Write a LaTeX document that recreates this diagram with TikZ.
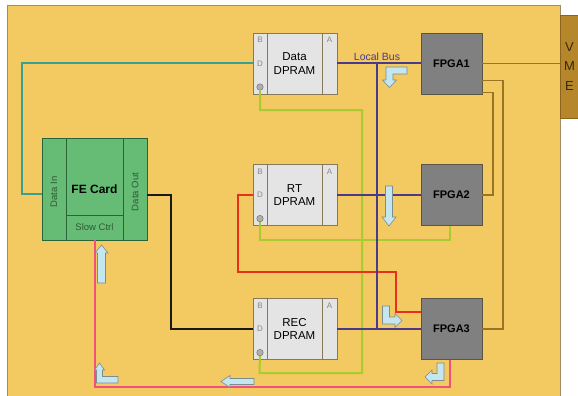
\documentclass[tikz,border=0pt]{standalone}
\usepackage{fontspec}
\setmainfont{Liberation Sans}
\usepackage{xcolor}
\usepackage{tikz}
\usetikzlibrary{positioning, calc}

\definecolor{boardyellow}{RGB}{243,201,97}
\definecolor{boardedge}{RGB}{160,140,100}
\definecolor{dpramgray}{RGB}{228,228,228}
\definecolor{dpramedge}{RGB}{135,120,90}
\definecolor{portgray}{RGB}{135,135,135}
\definecolor{ringgray}{RGB}{175,175,175}
\definecolor{ringedge}{RGB}{105,105,105}
\definecolor{fpgagray}{RGB}{128,128,128}
\definecolor{fpgaedge}{RGB}{90,86,70}
\definecolor{fegreen}{RGB}{102,188,116}
\definecolor{feedge}{RGB}{40,100,55}
\definecolor{fetext}{RGB}{45,90,55}
\definecolor{vmebrown}{RGB}{181,134,42}
\definecolor{vmeedge}{RGB}{140,100,30}
\definecolor{vmetext}{RGB}{55,40,15}
\definecolor{busviolet}{RGB}{75,58,138}
\definecolor{linkbrown}{RGB}{154,116,37}
\definecolor{feedteal}{RGB}{55,160,145}
\definecolor{rtred}{RGB}{232,48,28}
\definecolor{slowpink}{RGB}{240,82,122}
\definecolor{ctrlgreen}{RGB}{168,204,48}
\definecolor{arrowblue}{RGB}{196,230,240}
\definecolor{arrowedge}{RGB}{125,140,140}

\begin{document}
\begin{tikzpicture}[x=1pt, y=-1pt,
  dpram/.style={draw=dpramedge, fill=dpramgray, outer sep=0pt, minimum width=55pt, minimum height=61pt, align=center, font=\fontsize{11.5}{13.5}\selectfont},
  portcol/.style={draw=dpramedge, fill=dpramgray, outer sep=0pt, inner sep=0pt, minimum height=61pt},
  portlbl/.style={text=portgray, inner sep=0pt, font=\fontsize{8}{8}\selectfont},
  portring/.style={circle, draw=ringedge, fill=ringgray, minimum size=6.5pt, inner sep=0pt},
  fpga/.style={draw=fpgaedge, fill=fpgagray, outer sep=0pt, minimum width=61pt, minimum height=61pt, font=\fontsize{11}{11}\selectfont\bfseries},
  fepart/.style={draw=feedge, fill=fegreen, outer sep=0pt, inner sep=0pt},
  fetxt/.style={text=fetext, inner sep=0pt, font=\fontsize{9.5}{9.5}\selectfont},
  bus/.style={draw=busviolet, line width=2pt},
  link/.style={draw=linkbrown, line width=1.6pt},
  blockarrow/.style={draw=arrowedge, fill=arrowblue, line width=0.6pt, line join=miter}]

\useasboundingbox (0,0) rectangle (578,396);
\fill[white] (0,0) rectangle (578,396);
% board
\fill[boardyellow] (7,5) rectangle (560,396);
\draw[boardedge, line width=0.8pt] (7,396) -- (7,5) -- (560,5) -- (560,396);

% VME connector
\node[draw=vmeedge, fill=vmebrown, minimum width=19pt, minimum height=103pt, align=center, text=vmetext, font=\fontsize{13}{19.5}\selectfont] (vme) at (569.5,66.5) {V\\M\\E};

% DPRAMs
\node[dpram] (data) at (294.5,63.5) {Data\\DPRAM};
\node[portcol, minimum width=14pt, left=0pt of data] (dataL) {};
\node[portcol, minimum width=15pt, right=0pt of data] (dataR) {};
\node[portlbl, below=4pt of dataL.north] (dataB) {B};
\node[portlbl] (dataD) at (dataL) {D};
\node[portring, above=3.5pt of dataL.south] (dataat) {};
\node[portlbl, below=4pt of dataR.north] (dataA) {A};

\node[dpram] (rt) at (294.5,195) {RT\\DPRAM};
\node[portcol, minimum width=14pt, left=0pt of rt] (rtL) {};
\node[portcol, minimum width=15pt, right=0pt of rt] (rtR) {};
\node[portlbl, below=4pt of rtL.north] (rtB) {B};
\node[portlbl] (rtD) at (rtL) {D};
\node[portring, above=3.5pt of rtL.south] (rtat) {};
\node[portlbl, below=4pt of rtR.north] (rtA) {A};

\node[dpram] (rec) at (294.5,329) {REC\\DPRAM};
\node[portcol, minimum width=14pt, left=0pt of rec] (recL) {};
\node[portcol, minimum width=15pt, right=0pt of rec] (recR) {};
\node[portlbl, below=4pt of recL.north] (recB) {B};
\node[portlbl] (recD) at (recL) {D};
\node[portring, above=3.5pt of recL.south] (recat) {};
\node[portlbl, below=4pt of recR.north] (recA) {A};

% FPGAs
\node[fpga] (fpga1) at (451.5,63.5) {FPGA1};
\node[fpga] (fpga2) at (451.5,195) {FPGA2};
\node[fpga] (fpga3) at (451.5,329) {FPGA3};

% FE card
\node[fepart, minimum width=57pt, minimum height=102pt, font=\fontsize{12}{12}\selectfont\bfseries] (fecard) at (94.5,189) {FE Card};
\node[fepart, minimum width=57pt, minimum height=25pt, above=0pt of fecard.south, text=fetext, font=\fontsize{9.5}{9.5}\selectfont] (feslow) {Slow Ctrl};
\node[fepart, minimum width=24pt, minimum height=102pt, left=0pt of fecard] (fein) {};
\node[fepart, minimum width=24pt, minimum height=102pt, right=0pt of fecard] (feout) {};
\node[fetxt, rotate=90] (feinlbl) at ([yshift=-3pt]fein) {Data In};
\node[fetxt, rotate=90] (feoutlbl) at ([yshift=-3pt]feout) {Data Out};

% wires
\draw[feedteal, line width=2pt] (dataL.west) -| (22,194) -- ([yshift=-5pt]fein.west);
\draw[black!90, line width=2.4pt] ([yshift=-6pt]feout.east) -| (171,329) -- (recL.west);
\draw[ctrlgreen, line width=2pt] (dataat.south) |- (362,110) |- (259.5,373) -- (recat.south);
\draw[ctrlgreen, line width=2pt] (rtat.south) |- (449.5,240) -- ([xshift=-2pt]fpga2.south);
\draw[rtred, line width=2.8pt] (rtL.west) -| (238,272) -| (396,312) -- ([yshift=17pt]fpga3.west);
\draw[slowpink, line width=2pt] ([xshift=-2pt]fpga3.south) |- (94.5,387) -- (feslow.south);

% local bus
\coordinate (bustop) at (377,63.5);
\coordinate (busbot) at (377,329);
\draw[bus] (dataR.east) -- (fpga1.west);
\draw[bus] (rtR.east) -- (fpga2.west);
\draw[bus] (recR.east) -- (fpga3.west);
\draw[bus] (bustop) -- (busbot);
\node[text=busviolet, anchor=base, inner sep=0pt, font=\fontsize{10.5}{10.5}\selectfont] (buslbl) at (377,60.5) {Local Bus};

% FPGA links
\draw[link] (fpga1.east) -- (fpga1.east -| vme.west);
\draw[link] ([yshift=-17pt]fpga1.east) -| ([xshift=21pt]fpga3.east) -- (fpga3.east);
\draw[link] ([yshift=-29pt]fpga1.east) -| ([xshift=11pt]fpga2.east) -- (fpga2.east);

% flow arrows
\draw[blockarrow] (407,67) -- (386,67) -- (386,80) -- (382.5,80) -- (389.5,87.5) -- (396.5,80) -- (393,80) -- (393,74) -- (407,74) -- cycle;
\draw[blockarrow] (385.5,186) -- (392.5,186) -- (392.5,217) -- (396,217) -- (389,226) -- (382,217) -- (385.5,217) -- cycle;
\draw[blockarrow] (382.5,306) -- (389.5,306) -- (389.5,317) -- (395,317) -- (395,313.5) -- (402,320.5) -- (395,327.5) -- (395,324) -- (382.5,324) -- cycle;
\draw[blockarrow] (444,363) -- (444,380.5) -- (432,380.5) -- (432,384) -- (425,377) -- (432,370) -- (432,373.5) -- (437,373.5) -- (437,363) -- cycle;
\draw[blockarrow] (254,378.5) -- (230,378.5) -- (230,375.5) -- (221,381.5) -- (230,387.5) -- (230,384.5) -- (254,384.5) -- cycle;
\draw[blockarrow] (99.5,363) -- (104.5,370) -- (102.5,370) -- (102.5,376.5) -- (118,376.5) -- (118,383) -- (96.5,383) -- (96.5,370) -- (94.5,370) -- cycle;
\draw[blockarrow] (101.5,245) -- (108,253) -- (105.5,253) -- (105.5,283) -- (97.5,283) -- (97.5,253) -- (95,253) -- cycle;
\end{tikzpicture}
\end{document}
